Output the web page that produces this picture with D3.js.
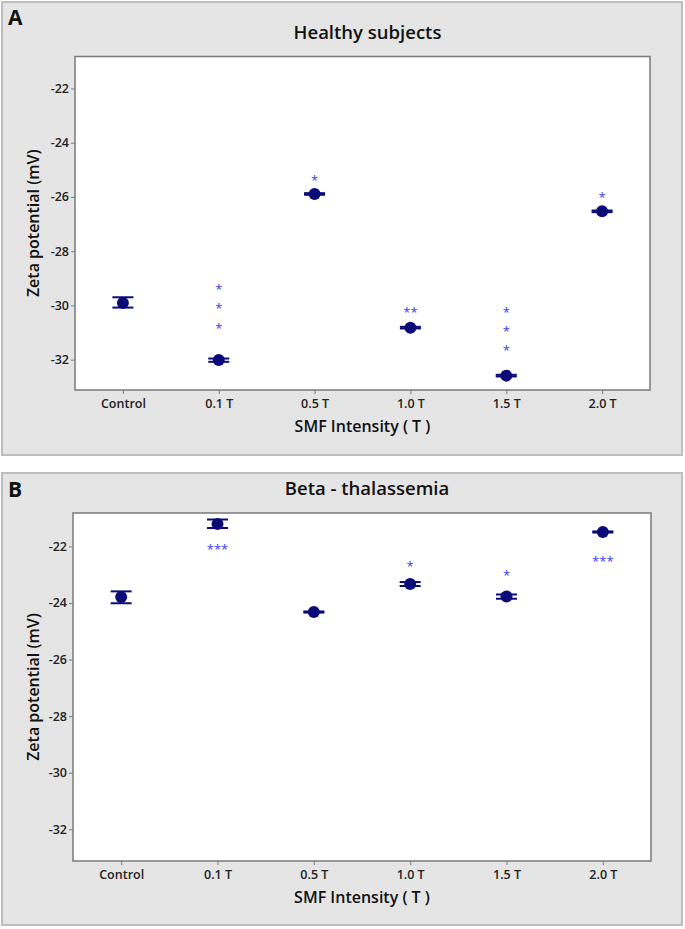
<!DOCTYPE html>
<html>
<head>
<meta charset="utf-8">
<script src="https://cdn.jsdelivr.net/npm/d3@7"></script>
<style>
  body { margin: 0; background: #fff; }
  svg { display: block; font-family: "Open Sans", "Noto Sans", sans-serif; }
</style>
</head>
<body>
<div id="chart"></div>
<script>
const width = 685;
const height = 929;

// categories and axis ticks
const categories = ["Control", "0.1 T", "0.5 T", "1.0 T", "1.5 T", "2.0 T"];
const yTicks = [-22, -24, -26, -28, -30, -32];
const yDomain = [-33.12, -20.82];

// panel A - healthy subjects (mean, lower / upper error bar)
const healthyMean = [-29.91, -32.01, -25.89, -30.82, -32.59, -26.53];
const healthyLow  = [-30.08, -32.08, -25.92, -30.85, -32.62, -26.56];
const healthyHigh = [-29.70, -31.96, -25.86, -30.79, -32.56, -26.50];
// significance marks: category, value, text
const healthyStars = [
  ["0.1 T", -29.27, "*"], ["0.1 T", -29.97, "*"], ["0.1 T", -30.71, "*"],
  ["0.5 T", -25.27, "*"],
  ["1.0 T", -30.12, "**"],
  ["1.5 T", -30.12, "*"], ["1.5 T", -30.82, "*"], ["1.5 T", -31.52, "*"],
  ["2.0 T", -25.89, "*"]
];

// panel B - beta thalassemia
const betaMean = [-23.79, -21.21, -24.32, -23.33, -23.77, -21.49];
const betaLow  = [-24.01, -21.35, -24.34, -23.40, -23.85, -21.51];
const betaHigh = [-23.59, -21.05, -24.30, -23.26, -23.70, -21.47];
const betaStars = [
  ["0.1 T", -22.00, "***"],
  ["1.0 T", -22.57, "*"],
  ["1.5 T", -22.89, "*"],
  ["2.0 T", -22.40, "***"]
];

const panels = [
  {letter: "A", title: "Healthy subjects", mean: healthyMean, low: healthyLow, high: healthyHigh, stars: healthyStars,
   box: {x: 2, y: 2, w: 680, h: 453}, plot: {left: 75, right: 650, top: 56.5, bottom: 390},
   letterY: 25, titleY: 39, labelY: 432},
  {letter: "B", title: "Beta - thalassemia", mean: betaMean, low: betaLow, high: betaHigh, stars: betaStars,
   box: {x: 2, y: 473, w: 680, h: 452}, plot: {left: 73, right: 651, top: 513, bottom: 861},
   letterY: 497, titleY: 495, labelY: 903}
];

const svg = d3.select("#chart")
  .append("svg")
  .attr("width", width)
  .attr("height", height);

function drawPanel(p) {
  const g = svg.append("g");

  g.append("rect")
    .attr("x", p.box.x).attr("y", p.box.y)
    .attr("width", p.box.w).attr("height", p.box.h)
    .attr("fill", "#e5e5e5")
    .attr("stroke", "#bdbdbd")
    .attr("stroke-width", 2);

  const x = d3.scalePoint()
    .domain(categories)
    .range([p.plot.left, p.plot.right])
    .padding(0.5);

  const y = d3.scaleLinear()
    .domain(yDomain)
    .range([p.plot.bottom, p.plot.top]);

  g.append("rect")
    .attr("x", p.plot.left).attr("y", p.plot.top)
    .attr("width", p.plot.right - p.plot.left)
    .attr("height", p.plot.bottom - p.plot.top)
    .attr("fill", "#fff")
    .attr("stroke", "#7a7a7a")
    .attr("stroke-width", 1.5);

  // y axis (plain hyphen minus like the original)
  const yAxis = g.append("g")
    .attr("transform", `translate(${p.plot.left},0)`)
    .call(d3.axisLeft(y).tickValues(yTicks).tickSize(4).tickPadding(2).tickFormat(d => String(d)));
  yAxis.select(".domain").remove();
  yAxis.selectAll("line").attr("stroke", "#7a7a7a");
  yAxis.selectAll("text")
    .attr("fill", "#222")
    .attr("font-size", 12.5)
    .attr("font-weight", 600)
    .attr("font-family", "Open Sans, sans-serif");

  // x axis
  const xAxis = g.append("g")
    .attr("transform", `translate(0,${p.plot.bottom})`)
    .call(d3.axisBottom(x).tickSize(4).tickPadding(5));
  xAxis.select(".domain").remove();
  xAxis.selectAll("line").attr("stroke", "#7a7a7a");
  xAxis.selectAll("text")
    .attr("fill", "#222")
    .attr("font-size", 12.5)
    .attr("font-weight", 600)
    .attr("font-family", "Open Sans, sans-serif");

  // labels
  g.append("text")
    .attr("x", 8).attr("y", p.letterY)
    .attr("font-size", 21).attr("font-weight", 700)
    .attr("fill", "#111")
    .text(p.letter);

  g.append("text")
    .attr("x", (p.plot.left + p.plot.right) / 2 + 5).attr("y", p.titleY)
    .attr("text-anchor", "middle")
    .attr("font-size", 18.5).attr("font-weight", 600)
    .attr("fill", "#111")
    .text(p.title);

  g.append("text")
    .attr("x", (p.plot.left + p.plot.right) / 2).attr("y", p.labelY)
    .attr("text-anchor", "middle")
    .attr("font-size", 16).attr("font-weight", 600)
    .attr("fill", "#111")
    .text("SMF Intensity ( T )");

  g.append("text")
    .attr("transform", `translate(39,${(p.plot.top + p.plot.bottom) / 2}) rotate(-90)`)
    .attr("text-anchor", "middle")
    .attr("font-size", 16).attr("font-weight", 600)
    .attr("fill", "#111")
    .text("Zeta potential (mV)");

  // error bars and means
  const rows = categories.map((c, i) => ({c, m: p.mean[i], lo: p.low[i], hi: p.high[i]}));
  const bars = g.append("g")
    .attr("stroke", "#0b0b78")
    .attr("stroke-width", 2);

  bars.selectAll(".v").data(rows).join("line")
    .attr("x1", d => x(d.c)).attr("x2", d => x(d.c))
    .attr("y1", d => y(d.lo)).attr("y2", d => y(d.hi));
  bars.selectAll(".lo").data(rows).join("line")
    .attr("x1", d => x(d.c) - 10.5).attr("x2", d => x(d.c) + 10.5)
    .attr("y1", d => y(d.lo)).attr("y2", d => y(d.lo));
  bars.selectAll(".hi").data(rows).join("line")
    .attr("x1", d => x(d.c) - 10.5).attr("x2", d => x(d.c) + 10.5)
    .attr("y1", d => y(d.hi)).attr("y2", d => y(d.hi));

  g.append("g")
    .selectAll("circle")
    .data(rows)
    .join("circle")
      .attr("cx", d => x(d.c))
      .attr("cy", d => y(d.m))
      .attr("r", 6)
      .attr("fill", "#0b0b78");

  g.append("g")
    .selectAll("text")
    .data(p.stars)
    .join("text")
      .attr("x", d => x(d[0]))
      .attr("y", d => y(d[1]))
      .attr("dy", "0.62em")
      .attr("text-anchor", "middle")
      .attr("font-size", 13)
      .attr("fill", "#3b3bf5")
      .text(d => d[2]);
}

panels.forEach(drawPanel);
</script>
</body>
</html>
